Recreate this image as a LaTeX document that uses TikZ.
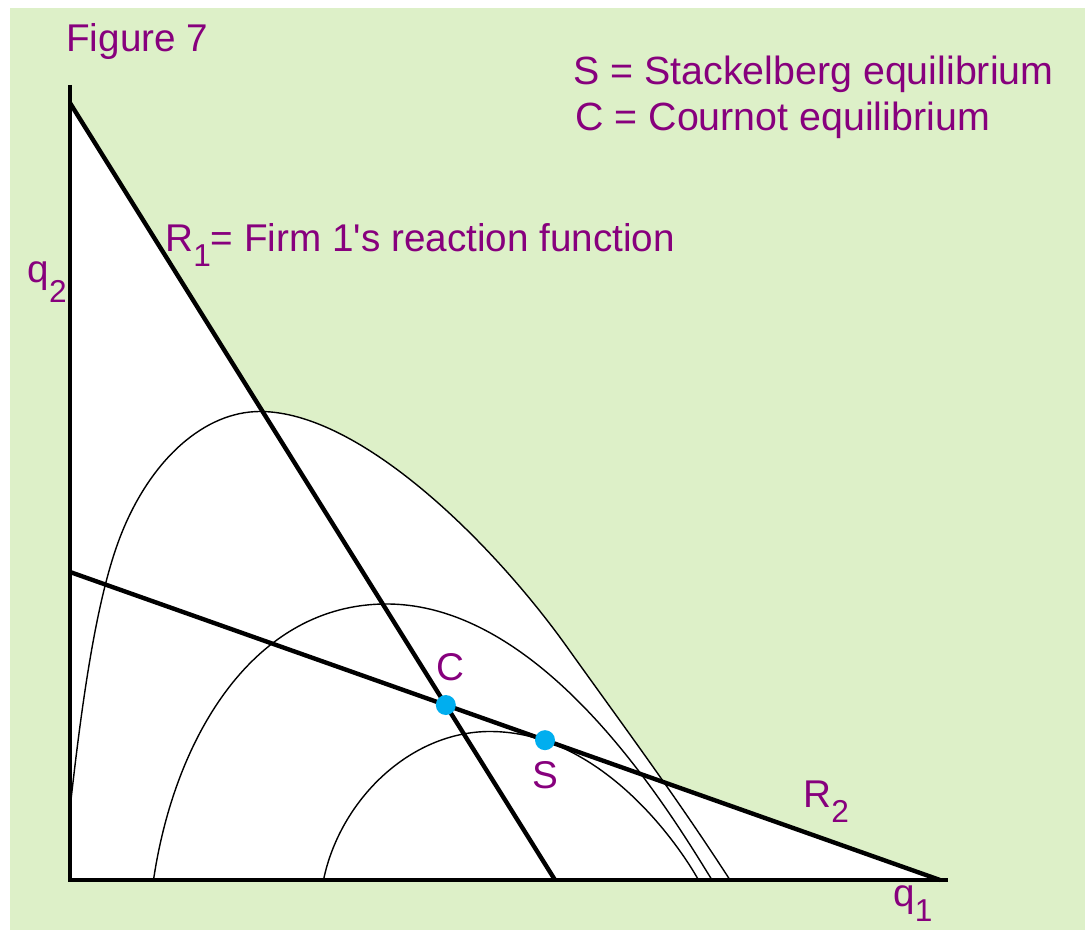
\documentclass[tikz,border=0pt]{standalone}
\usepackage{fontspec}
\setmainfont{Liberation Sans}
\usepackage{tikz}
\usetikzlibrary{calc}
\definecolor{bggreen}{RGB}{221,240,200}
\definecolor{figpurple}{RGB}{135,0,125}
\definecolor{eqblue}{RGB}{0,174,239}
\newcommand{\lowsub}[2][0.38em]{\raisebox{-#1}{\fontsize{18}{18}\selectfont #2}}

\begin{document}
\begin{tikzpicture}[
    lbl/.style={text=figpurple, font=\fontsize{22}{26}\selectfont, inner sep=0pt},
    legend/.style={lbl, font=\fontsize{22.4}{26}\selectfont},
    eqdot/.style={circle, fill=eqblue, minimum size=0.4cm, inner sep=0pt},
    isoprofit/.style={line width=0.8pt},
    reaction/.style={line width=2.5pt}
]
    \useasboundingbox (-1.4,-1.02) rectangle (20.3,17.6);
    \fill[bggreen] (-1.2,-1.0) rectangle (20.3,17.44);

    % axis and reaction function end points
    \coordinate (O) at (0,0);
    \coordinate (Ytop) at (0,15.9);
    \coordinate (Xend) at (17.56,0);
    \coordinate (R1a) at (0,15.54);
    \coordinate (R1b) at (9.7,0);
    \coordinate (R2a) at (0,6.16);
    \coordinate (R2b) at (17.4,0);

    % white area under the reaction functions and the outer curve
    \fill[white] (O) -- (R1a) -- (R1b) -- cycle;
    \fill[white] (O) -- (R2a) -- (R2b) -- cycle;
    \fill[white] (O) -- (0.02,1.6) .. controls (0.32,4.3) and (0.63,5.93) .. (1.03,6.93)
        .. controls (1.63,8.43) and (2.7,9.37) .. (3.8,9.37)
        .. controls (5.8,9.37) and (8.44,6.76) .. (9.94,4.66)
        .. controls (11.04,3.12) and (12.1,1.7) .. (13.2,0) -- cycle;

    % iso-profit curves of firm 1
    \draw[isoprofit] (0.02,1.6) .. controls (0.32,4.3) and (0.63,5.93) .. (1.03,6.93)
        .. controls (1.63,8.43) and (2.7,9.37) .. (3.8,9.37)
        .. controls (5.8,9.37) and (8.44,6.76) .. (9.94,4.66)
        .. controls (11.04,3.12) and (12.1,1.7) .. (13.2,0);
    \draw[isoprofit] (1.67,0) .. controls (2.1,2.9) and (3.7,5.52) .. (6.33,5.52)
        .. controls (9.5,5.52) and (12.0,1.36) .. (12.84,0);
    \draw[isoprofit] (5.07,0) .. controls (5.4,1.6) and (6.8,2.97) .. (8.4,2.97)
        .. controls (10.6,2.97) and (12.15,0.75) .. (12.57,0);

    % reaction functions and axes
    \draw[reaction] (R1a) -- (R1b);
    \draw[reaction] (R2a) -- (R2b);
    \draw[reaction] (Ytop) -- (O) -- (Xend);

    % equilibria
    \node[eqdot] (C) at (intersection of R1a--R1b and R2a--R2b) {};
    \node[eqdot] (S) at ($(R2a)!0.546!(R2b)$) {};
    \node[lbl, anchor=base] (Clbl) at ([shift={(0.1,0.5)}]C) {C};
    \node[lbl, anchor=base] (Slbl) at ([shift={(0,-0.97)}]S) {S};

    % labels
    \node[lbl, anchor=base west] (title) at (-0.08,16.56) {Figure 7};
    \node[legend, anchor=base west] (legS) at (10.06,15.9) {S = Stackelberg equilibrium};
    \node[legend, anchor=base west] (legC) at (10.1,14.98) {C = Cournot equilibrium};
    \node[lbl, anchor=base west] (R1lbl) at (1.9,12.56)
        {R\lowsub{1}= Firm 1\textquotesingle s reaction function};
    \node[lbl, anchor=base west] (R2lbl) at (14.66,1.44) {R\lowsub{2}};
    \node[lbl, anchor=base east] (q2lbl) at (-0.06,11.94) {q\lowsub[0.5em]{2}};
    \node[lbl, anchor=base west] (q1lbl) at (16.46,-0.54) {q\lowsub{1}};
\end{tikzpicture}
\end{document}
